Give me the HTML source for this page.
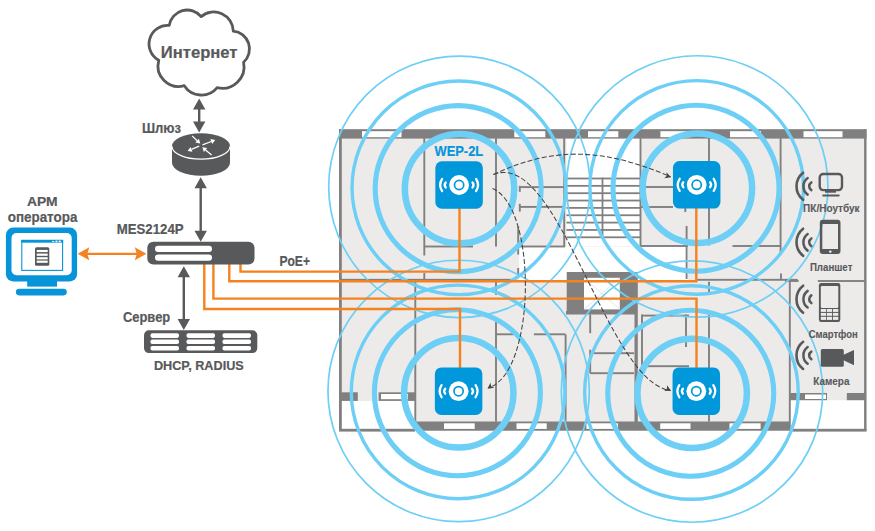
<!DOCTYPE html><html><head><meta charset="utf-8"><style>html,body{margin:0;padding:0;background:#fff;width:875px;height:531px;overflow:hidden}svg{display:block}text{font-family:"Liberation Sans",sans-serif;font-weight:bold;stroke-width:0.2px}</style></head><body><svg width="875" height="531" viewBox="0 0 875 531"><rect x="339" y="129.2" width="527.5" height="301.6" fill="#ecebe9"/><rect x="341.5" y="401" width="73.5" height="29" fill="#fff"/><rect x="790.5" y="400.2" width="73.5" height="30" fill="#fff"/><rect x="566.5" y="138" width="73.5" height="108.5" fill="#fff"/><rect x="519" y="247" width="169" height="33.5" fill="#fff"/><rect x="566.7" y="272" width="70" height="42" fill="#808080"/><rect x="584" y="277.8" width="35.8" height="31.6" fill="#fff"/><path d="M584 277.8 L619.8 309.4 M619.8 277.8 L584 309.4" stroke="#ddd" stroke-width="0.8"/><rect x="339" y="129.2" width="2.8" height="301.6" fill="#808080"/><rect x="864.1" y="129.2" width="2.4" height="301.6" fill="#808080"/><rect x="339" y="129.2" width="527.5" height="9.4" fill="#808080"/><rect x="362" y="131.2" width="39.5" height="6" fill="#fff"/><rect x="514.3" y="131.2" width="31.0" height="6" fill="#fff"/><rect x="588" y="131.2" width="30.299999999999955" height="6" fill="#fff"/><rect x="660.4" y="131.2" width="30.300000000000068" height="6" fill="#fff"/><rect x="730" y="131.2" width="31" height="6" fill="#fff"/><rect x="803.5" y="131.2" width="39.0" height="6" fill="#fff"/><rect x="415" y="421.5" width="375" height="9.2" fill="#808080"/><rect x="444" y="423.3" width="30.69999999999999" height="5.6" fill="#fff"/><rect x="516.5" y="423.3" width="30.200000000000045" height="5.6" fill="#fff"/><rect x="586.4" y="423.3" width="31.600000000000023" height="5.6" fill="#fff"/><rect x="660.2" y="423.3" width="30.299999999999955" height="5.6" fill="#fff"/><rect x="729.5" y="423.3" width="31.100000000000023" height="5.6" fill="#fff"/><rect x="341" y="392.3" width="16.8" height="8.6" fill="#808080"/><rect x="378.6" y="392.3" width="37.2" height="8.6" fill="#808080"/><rect x="381" y="394" width="27" height="5.2" fill="#fff"/><rect x="790" y="393" width="13" height="7.2" fill="#808080"/><rect x="803" y="393" width="24" height="7.2" fill="#808080"/><rect x="805" y="394.5" width="21" height="4.5" fill="#fff"/><rect x="846.8" y="393" width="18.2" height="7.2" fill="#808080"/><rect x="339" y="428.8" width="76" height="2.8" fill="#808080"/><rect x="790" y="428.8" width="76.5" height="2.8" fill="#808080"/><rect x="423.35" y="138" width="1.9" height="117.50" fill="#808080"/><rect x="424" y="245.55" width="49.00" height="1.9" fill="#808080"/><rect x="495.05" y="138" width="1.9" height="108.50" fill="#808080"/><rect x="423.35" y="273" width="1.9" height="7.00" fill="#808080"/><rect x="341" y="278.85" width="173.00" height="1.9" fill="#808080"/><rect x="696" y="278.85" width="101.70" height="1.9" fill="#808080"/><rect x="414.35" y="281" width="1.9" height="141.00" fill="#808080"/><rect x="495.05" y="281" width="1.9" height="13.80" fill="#808080"/><rect x="495.05" y="322" width="1.9" height="99.50" fill="#808080"/><rect x="496" y="333.35" width="17.50" height="1.9" fill="#808080"/><rect x="533.9" y="333.35" width="31.60" height="1.9" fill="#808080"/><rect x="517.25" y="226.6" width="1.9" height="28.00" fill="#808080"/><rect x="517.25" y="268" width="1.9" height="9.00" fill="#808080"/><rect x="516.5" y="245.55" width="48.50" height="1.9" fill="#808080"/><rect x="519.7" y="186.15" width="44.30" height="1.9" fill="#808080"/><rect x="519.7" y="205.95" width="44.30" height="1.9" fill="#808080"/><rect x="518.85" y="185.8" width="1.9" height="6.00" fill="#808080"/><rect x="518.85" y="203.8" width="1.9" height="7.80" fill="#808080"/><rect x="563.25" y="138" width="1.9" height="108.50" fill="#808080"/><rect x="639.55" y="138" width="1.9" height="108.50" fill="#808080"/><rect x="640.5" y="245.05" width="47.50" height="1.9" fill="#808080"/><rect x="708.05" y="138" width="1.9" height="107.50" fill="#808080"/><rect x="708.05" y="281.8" width="1.9" height="10.20" fill="#808080"/><rect x="708.05" y="313" width="1.9" height="108.50" fill="#808080"/><rect x="641" y="186.05" width="32.00" height="1.9" fill="#808080"/><rect x="641" y="206.05" width="32.00" height="1.9" fill="#808080"/><rect x="685.65" y="226" width="1.9" height="53.00" fill="#808080"/><rect x="684.35" y="207" width="1.9" height="5.00" fill="#808080"/><rect x="732.5" y="245.05" width="48.50" height="1.9" fill="#808080"/><rect x="779.65" y="138" width="1.9" height="116.00" fill="#808080"/><rect x="780.05" y="273.5" width="1.9" height="6.50" fill="#808080"/><rect x="788.85" y="281" width="1.9" height="150.00" fill="#808080"/><rect x="642" y="314.65" width="47.00" height="1.9" fill="#808080"/><rect x="641.05" y="314.5" width="1.9" height="51.70" fill="#808080"/><rect x="642" y="365.25" width="47.00" height="1.9" fill="#808080"/><rect x="685.05" y="314.5" width="1.9" height="32.50" fill="#808080"/><rect x="589.25" y="314.5" width="1.9" height="18.70" fill="#808080"/><rect x="589.25" y="349.7" width="1.9" height="23.50" fill="#808080"/><rect x="590" y="352.25" width="44.00" height="1.9" fill="#808080"/><rect x="590" y="372.25" width="44.00" height="1.9" fill="#808080"/><rect x="564.65" y="334.4" width="1.9" height="87.10" fill="#808080"/><rect x="785" y="280.05" width="13.60" height="1.9" fill="#808080"/><rect x="817.8" y="280.05" width="48.20" height="1.9" fill="#808080"/><rect x="634.5" y="272" width="3.3" height="150" fill="#808080"/><rect x="566" y="311" width="71" height="3.5" fill="#808080"/><rect x="566.5" y="177.60" width="73.5" height="1.8" fill="#808080"/><rect x="566.5" y="184.95" width="73.5" height="1.8" fill="#808080"/><rect x="566.5" y="192.30" width="73.5" height="1.8" fill="#808080"/><rect x="566.5" y="199.65" width="73.5" height="1.8" fill="#808080"/><rect x="566.5" y="207.00" width="73.5" height="1.8" fill="#808080"/><rect x="566.5" y="214.35" width="73.5" height="1.8" fill="#808080"/><rect x="566.5" y="221.70" width="73.5" height="1.8" fill="#808080"/><rect x="566.5" y="229.05" width="73.5" height="1.8" fill="#808080"/><rect x="566.5" y="236.40" width="73.5" height="1.8" fill="#808080"/><rect x="601.6" y="177.6" width="1.8" height="60" fill="#808080"/><g fill="none" stroke="#6dcff6"><circle cx="459.40" cy="186.85" r="130.7" stroke-width="1.7"/><circle cx="458.85" cy="187.80" r="106.8" stroke-width="3.4"/><circle cx="458.15" cy="188.60" r="83.0" stroke-width="5.1"/><circle cx="459.55" cy="188.65" r="54.7" stroke-width="6.5"/><circle cx="697.25" cy="186.45" r="130.7" stroke-width="1.7"/><circle cx="696.70" cy="187.40" r="106.8" stroke-width="3.4"/><circle cx="696.00" cy="188.20" r="83.0" stroke-width="5.1"/><circle cx="697.40" cy="188.25" r="54.7" stroke-width="6.5"/><circle cx="458.65" cy="390.95" r="130.7" stroke-width="1.7"/><circle cx="458.10" cy="391.90" r="106.8" stroke-width="3.4"/><circle cx="457.40" cy="392.70" r="83.0" stroke-width="5.1"/><circle cx="458.80" cy="392.75" r="54.7" stroke-width="6.5"/><circle cx="692.00" cy="391.55" r="130.7" stroke-width="1.7"/><circle cx="691.45" cy="392.50" r="106.8" stroke-width="3.4"/><circle cx="690.75" cy="393.30" r="83.0" stroke-width="5.1"/><circle cx="692.15" cy="393.35" r="54.7" stroke-width="6.5"/></g><g fill="none" stroke="#f58220" stroke-width="2.4" stroke-linejoin="miter"><path d="M240.5 264 V271.6 H459.5 V208"/><path d="M229.3 264 V281.2 H696.3 V208"/><path d="M213.4 264 V298.6 H696.5 V368"/><path d="M204.3 264 V309 H460 V368"/></g><g fill="none" stroke="#444" stroke-width="1.05" stroke-dasharray="5 2.3"><path d="M493.5 174.5 C557 144.7 606 149.5 670.6 176.7"/><path d="M493.5 174.5 C558.9 148 606.1 382.7 670.7 390.6"/><path d="M492.5 188.6 C537.8 206.7 536.1 373.2 488.7 387.7"/></g><path d="M671.00 177.30 L664.27 178.27 L666.77 175.77 L666.44 172.25 Z" fill="#444"/><path d="M671.00 390.80 L664.21 391.10 L666.94 388.86 L666.97 385.32 Z" fill="#444"/><path d="M487.50 388.80 L490.48 382.69 L491.14 386.16 L494.24 387.87 Z" fill="#444"/><g fill="none" stroke="#58595b" stroke-linecap="round"><path d="M803.11 172.75 A17.2 17.2 0 0 0 803.11 199.85" stroke-width="2.6"/><path d="M807.65 177.97 A10.3 10.3 0 0 0 807.65 194.63" stroke-width="2.5"/><path d="M811.32 182.48 A4.5 4.5 0 0 0 811.32 190.12" stroke-width="2.6"/></g><rect x="819.7" y="174" width="22.3" height="16.1" rx="3.5" fill="none" stroke="#58595b" stroke-width="2.4"/><rect x="825" y="190.5" width="11" height="2.2" fill="#58595b"/><rect x="822.2" y="194.4" width="17.5" height="2.1" rx="1" fill="#58595b"/><text stroke="#58595b" style="stroke-width:0.1px" x="803.1" y="211.7" fill="#58595b" font-size="10.4" textLength="56.5" lengthAdjust="spacingAndGlyphs">ПК/Ноутбук</text><g fill="none" stroke="#58595b" stroke-linecap="round"><path d="M803.11 228.75 A17.2 17.2 0 0 0 803.11 255.85" stroke-width="2.6"/><path d="M807.65 233.97 A10.3 10.3 0 0 0 807.65 250.63" stroke-width="2.5"/><path d="M811.32 238.48 A4.5 4.5 0 0 0 811.32 246.12" stroke-width="2.6"/></g><path fill-rule="evenodd" fill="#58595b" d="M822.8 219.7 H837.5 A3 3 0 0 1 840.5 222.7 V250.9 A3 3 0 0 1 837.5 253.9 H822.8 A3 3 0 0 1 819.8 250.9 V222.7 A3 3 0 0 1 822.8 219.7 Z M822.3 223.9 V249.1 H838 V223.9 Z"/><circle cx="830.3" cy="251.6" r="1.2" fill="#fff"/><text stroke="#58595b" style="stroke-width:0.1px" x="809.9" y="271.4" fill="#58595b" font-size="10.4" textLength="42.5" lengthAdjust="spacingAndGlyphs">Планшет</text><g fill="none" stroke="#58595b" stroke-linecap="round"><path d="M803.11 285.65 A17.2 17.2 0 0 0 803.11 312.75" stroke-width="2.6"/><path d="M807.65 290.87 A10.3 10.3 0 0 0 807.65 307.53" stroke-width="2.5"/><path d="M811.32 295.38 A4.5 4.5 0 0 0 811.32 303.02" stroke-width="2.6"/></g><rect x="818.9" y="283" width="21.4" height="39" rx="2.2" fill="#58595b"/><rect x="820.8" y="286.1" width="17.5" height="21.8" rx="1.2" fill="#ecebe9"/><rect x="820.8" y="309" width="5.20" height="2.90" fill="#ecebe9"/><rect x="826.8" y="309" width="5.20" height="2.90" fill="#ecebe9"/><rect x="832.9" y="309" width="5.40" height="2.90" fill="#ecebe9"/><rect x="820.8" y="312.9" width="5.20" height="2.90" fill="#ecebe9"/><rect x="826.8" y="312.9" width="5.20" height="2.90" fill="#ecebe9"/><rect x="832.9" y="312.9" width="5.40" height="2.90" fill="#ecebe9"/><rect x="820.8" y="316.8" width="5.20" height="3.10" fill="#ecebe9"/><rect x="826.8" y="316.8" width="5.20" height="3.10" fill="#ecebe9"/><rect x="832.9" y="316.8" width="5.40" height="3.10" fill="#ecebe9"/><text stroke="#58595b" style="stroke-width:0.1px" x="808.7" y="338" fill="#58595b" font-size="10.4" textLength="49.1" lengthAdjust="spacingAndGlyphs">Смартфон</text><g fill="none" stroke="#58595b" stroke-linecap="round"><path d="M803.11 341.85 A17.2 17.2 0 0 0 803.11 368.95" stroke-width="2.6"/><path d="M807.65 347.07 A10.3 10.3 0 0 0 807.65 363.73" stroke-width="2.5"/><path d="M811.32 351.58 A4.5 4.5 0 0 0 811.32 359.22" stroke-width="2.6"/></g><rect x="820.8" y="349" width="23" height="17.8" rx="1.6" fill="#58595b"/><path d="M842.5 355.2 L854 350 V365.2 L842.5 359.8 Z" fill="#58595b"/><text stroke="#58595b" style="stroke-width:0.1px" x="813.3" y="384.8" fill="#58595b" font-size="10.4" textLength="36.1" lengthAdjust="spacingAndGlyphs">Камера</text><g transform="translate(459.1,185)"><rect x="-23.75" y="-23.75" width="47.5" height="47.5" rx="6.5" fill="#0097db"/><circle r="9.9" fill="#fff"/><circle r="4.6" fill="none" stroke="#0097db" stroke-width="1.7"/><g fill="none" stroke="#fff" stroke-width="2.3" stroke-linecap="round"><path d="M-17 -6 A10.9 10.9 0 0 0 -17 6"/><path d="M-13.4 -2.5 A3.93 3.93 0 0 0 -13.4 2.5"/><path d="M17 -6 A10.9 10.9 0 0 1 17 6"/><path d="M13.4 -2.5 A3.93 3.93 0 0 1 13.4 2.5"/></g></g><g transform="translate(696.7,184.8)"><rect x="-23.75" y="-23.75" width="47.5" height="47.5" rx="6.5" fill="#0097db"/><circle r="9.9" fill="#fff"/><circle r="4.6" fill="none" stroke="#0097db" stroke-width="1.7"/><g fill="none" stroke="#fff" stroke-width="2.3" stroke-linecap="round"><path d="M-17 -6 A10.9 10.9 0 0 0 -17 6"/><path d="M-13.4 -2.5 A3.93 3.93 0 0 0 -13.4 2.5"/><path d="M17 -6 A10.9 10.9 0 0 1 17 6"/><path d="M13.4 -2.5 A3.93 3.93 0 0 1 13.4 2.5"/></g></g><g transform="translate(458.6,391.2)"><rect x="-23.75" y="-23.75" width="47.5" height="47.5" rx="6.5" fill="#0097db"/><circle r="9.9" fill="#fff"/><circle r="4.6" fill="none" stroke="#0097db" stroke-width="1.7"/><g fill="none" stroke="#fff" stroke-width="2.3" stroke-linecap="round"><path d="M-17 -6 A10.9 10.9 0 0 0 -17 6"/><path d="M-13.4 -2.5 A3.93 3.93 0 0 0 -13.4 2.5"/><path d="M17 -6 A10.9 10.9 0 0 1 17 6"/><path d="M13.4 -2.5 A3.93 3.93 0 0 1 13.4 2.5"/></g></g><g transform="translate(696.3,391.2)"><rect x="-23.75" y="-23.75" width="47.5" height="47.5" rx="6.5" fill="#0097db"/><circle r="9.9" fill="#fff"/><circle r="4.6" fill="none" stroke="#0097db" stroke-width="1.7"/><g fill="none" stroke="#fff" stroke-width="2.3" stroke-linecap="round"><path d="M-17 -6 A10.9 10.9 0 0 0 -17 6"/><path d="M-13.4 -2.5 A3.93 3.93 0 0 0 -13.4 2.5"/><path d="M17 -6 A10.9 10.9 0 0 1 17 6"/><path d="M13.4 -2.5 A3.93 3.93 0 0 1 13.4 2.5"/></g></g><text stroke="#0795da" x="434.5" y="155.9" fill="#0795da" font-size="13.8" textLength="48.7" lengthAdjust="spacingAndGlyphs">WEP-2L</text><path d="M169.2 25.4 A18.2 18.2 0 0 1 201.2 16.6 A19.5 19.5 0 0 1 233.3 31.1 A17.9 17.9 0 0 1 243.6 62.2 A21.7 21.7 0 0 1 217.2 87.6 A20.4 20.4 0 0 1 184.3 85.7 A20.6 20.6 0 0 1 158.8 60.3 A18.6 18.6 0 0 1 169.2 25.4 Z" fill="#fff" stroke="#58595b" stroke-width="2.8" stroke-linejoin="round"/><text stroke="#58595b" x="160.8" y="57.9" fill="#58595b" font-size="16" textLength="76.7" lengthAdjust="spacingAndGlyphs">Интернет</text><path d="M199.2 108.5 V122.4" stroke="#58595b" stroke-width="2.4"/><path d="M199.2 98.5 L205.39999999999998 109.5 L193.0 109.5 Z M199.2 132.4 L205.39999999999998 121.4 L193.0 121.4 Z" fill="#58595b"/><path d="M200.7 187.3 V231.8" stroke="#58595b" stroke-width="2.4"/><path d="M200.7 177.3 L206.89999999999998 188.3 L194.5 188.3 Z M200.7 241.8 L206.89999999999998 230.8 L194.5 230.8 Z" fill="#58595b"/><path d="M183.8 276.3 V320.1" stroke="#58595b" stroke-width="2.4"/><path d="M183.8 266.3 L190.0 277.3 L177.60000000000002 277.3 Z M183.8 330.1 L190.0 319.1 L177.60000000000002 319.1 Z" fill="#58595b"/><path d="M172 146.3 V162.7 A29 13 0 0 0 230 162.7 V146.3 Z" fill="#58595b"/><ellipse cx="201" cy="146.3" rx="29" ry="13" fill="#58595b"/><path d="M172 146.2 A29 13 0 0 0 230 146.2" fill="none" stroke="#fff" stroke-width="1.2"/><path d="M192.1 135.9 L197.16 140.71" stroke="#fff" stroke-width="1.25"/><path d="M200.2 143.6 L195.36 142.59 L198.95 138.82 Z" fill="#fff"/><path d="M202.5 144.9 L211.28 141.51" stroke="#fff" stroke-width="1.25"/><path d="M215.2 140 L212.22 143.94 L210.35 139.09 Z" fill="#fff"/><path d="M199.2 146.2 L191.49 149.32" stroke="#fff" stroke-width="1.25"/><path d="M187.6 150.9 L190.52 146.91 L192.47 151.73 Z" fill="#fff"/><path d="M211.6 155 L205.54 149.98" stroke="#fff" stroke-width="1.25"/><path d="M202.3 147.3 L207.19 147.98 L203.88 151.98 Z" fill="#fff"/><text stroke="#58595b" x="141.9" y="133" fill="#58595b" font-size="13.8" textLength="39.1" lengthAdjust="spacingAndGlyphs">Шлюз</text><rect x="147.3" y="241.8" width="107.2" height="22.8" rx="6" fill="#58595b"/><rect x="155" y="245.7" width="57" height="6.3" rx="3" fill="#fff"/><rect x="155" y="254.5" width="57" height="6.3" rx="3" fill="#fff"/><text stroke="#58595b" x="116.7" y="234" fill="#58595b" font-size="13.8" textLength="66.9" lengthAdjust="spacingAndGlyphs">MES2124P</text><text stroke="#58595b" x="279.4" y="265.8" fill="#58595b" font-size="13.8" textLength="30.6" lengthAdjust="spacingAndGlyphs">PoE+</text><rect x="144" y="330.2" width="113.3" height="22.9" rx="5" fill="#58595b"/><rect x="150.5" y="333.3" width="28.5" height="4.6" rx="1.8" fill="#fff"/><rect x="150.5" y="339.5" width="28.5" height="4.6" rx="1.8" fill="#fff"/><rect x="150.5" y="345.9" width="28.5" height="4.6" rx="1.8" fill="#fff"/><rect x="186.5" y="333.3" width="28.5" height="4.6" rx="1.8" fill="#fff"/><rect x="186.5" y="339.5" width="28.5" height="4.6" rx="1.8" fill="#fff"/><rect x="186.5" y="345.9" width="28.5" height="4.6" rx="1.8" fill="#fff"/><rect x="222.5" y="333.3" width="28.5" height="4.6" rx="1.8" fill="#fff"/><rect x="222.5" y="339.5" width="28.5" height="4.6" rx="1.8" fill="#fff"/><rect x="222.5" y="345.9" width="28.5" height="4.6" rx="1.8" fill="#fff"/><text stroke="#58595b" x="123" y="321.8" fill="#58595b" font-size="14" textLength="47.2" lengthAdjust="spacingAndGlyphs">Сервер</text><text stroke="#58595b" x="153.9" y="370.4" fill="#58595b" font-size="13" textLength="89.9" lengthAdjust="spacingAndGlyphs">DHCP, RADIUS</text><rect x="5.9" y="227.6" width="71.2" height="53.9" rx="7.3" fill="#0794d9"/><rect x="11.5" y="233" width="60.2" height="42.2" rx="5" fill="#fff"/><rect x="27.2" y="281" width="29.8" height="5.6" fill="#0794d9"/><rect x="15.9" y="288.8" width="50.9" height="6.6" rx="3.3" fill="#0794d9"/><rect x="21.8" y="240.4" width="40.8" height="30" fill="none" stroke="#0794d9" stroke-width="1.1"/><rect x="21.3" y="239.9" width="41.8" height="2.8" fill="#0794d9"/><rect x="35" y="247.3" width="14.3" height="18.5" rx="1.5" fill="#58595b"/><rect x="36.7" y="249.9" width="11" height="2.2" fill="#fff"/><rect x="36.7" y="253.6" width="11" height="2.2" fill="#fff"/><rect x="36.7" y="257.2" width="11" height="2.2" fill="#fff"/><rect x="36.7" y="260.6" width="11" height="2.2" fill="#fff"/><text stroke="#58595b" x="26.9" y="205.9" fill="#58595b" font-size="13.6" textLength="30.7" lengthAdjust="spacingAndGlyphs">АРМ</text><text stroke="#58595b" x="7.7" y="221.8" fill="#58595b" font-size="15" textLength="69.7" lengthAdjust="spacingAndGlyphs">оператора</text><path d="M87 253.8 H137" stroke="#f58220" stroke-width="2.3"/><path d="M77.7 253.8 L89.3 247.3 L87.3 253.8 L89.3 260.3 Z M146.4 253.8 L134.8 247.3 L136.8 253.8 L134.8 260.3 Z" fill="#f58220"/><rect x="52" y="241" width="2.2" height="0.9" fill="#fff"/><rect x="55.5" y="240.6" width="2" height="1.6" fill="#fff"/><rect x="58.8" y="240.6" width="2" height="1.6" fill="#fff"/></svg></body></html>
